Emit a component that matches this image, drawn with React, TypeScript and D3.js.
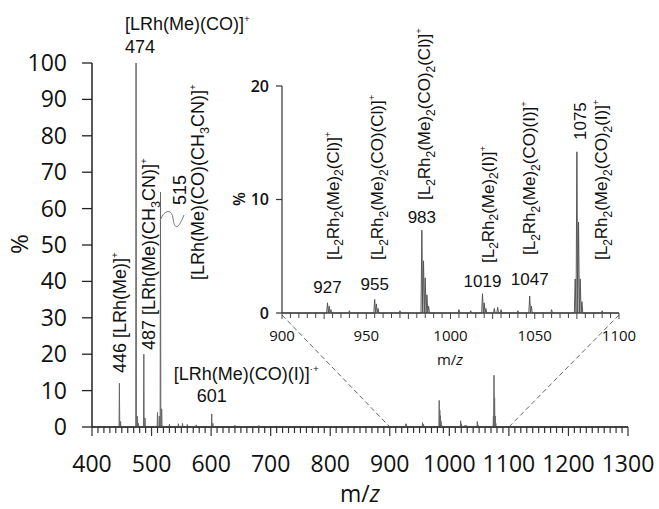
import React from 'react';
import * as d3 from 'd3';

// main spectrum sticks: m/z and relative intensity (%)
const mainMz = [446, 448, 474, 476, 478, 487, 489, 510, 513, 515, 517, 530, 545, 552, 560, 575, 601, 603, 640, 680];
const mainInt = [12, 1.5, 100, 3, 1, 20, 2.5, 4, 3, 64.5, 5, 0.8, 0.9, 1, 0.7, 0.6, 3.6, 1, 0.5, 0.4];

// dinuclear region, shared by the inset and the main trace
const dimerMz = [927, 928, 929, 940, 955, 956, 957, 970, 983, 984, 985, 986, 987, 1005, 1012, 1019, 1020, 1021, 1026, 1028, 1030, 1040, 1047, 1048, 1060, 1074, 1075, 1076, 1077, 1078, 1090];
const dimerInt = [0.9, 0.6, 0.3, 0.2, 1.2, 0.8, 0.4, 0.2, 7.3, 4.6, 3.1, 1.6, 0.6, 0.3, 0.2, 1.7, 0.9, 0.4, 0.4, 0.5, 0.3, 0.2, 1.5, 0.6, 0.3, 3, 14.2, 8, 3, 1, 0.2];

const mainYTicks = d3.range(0, 101, 10);
const mainXLabels = d3.range(400, 1301, 100);
const insetXLabels = [900, 950, 1000, 1050, 1100];
const insetYTicks = [0, 10, 20];

// annotations: text uses _x for subscript, ^ for superscript
const mainLabels = [
  { text: '[LRh(Me)(CO)]^+', mz: 474, dx: -11, y: 30, rot: false, anchor: 'start' },
  { text: '474', mz: 474, dx: -11, y: 53, rot: false, anchor: 'start' },
  { text: '446 [LRh(Me)]^+', mz: 446, dx: 0, y: 373, rot: true },
  { text: '487 [LRh(Me)(CH_3CN)]^+', mz: 487, dx: 5, y: 350, rot: true },
  { text: '515', mz: 515, dx: 19, y: 205, rot: true },
  { text: '[LRh(Me)(CO)(CH_3CN)]^+', mz: 515, dx: 37, y: 280, rot: true },
  { text: '[LRh(Me)(CO)(I)]^·+', mz: 601, dx: -38, y: 380, rot: false, anchor: 'start' },
  { text: '601', mz: 601, dx: 0, y: 402, rot: false, anchor: 'middle' },
];

const insetLabels = [
  { text: '927', mz: 927, dx: 0, y: 293, rot: false },
  { text: '955', mz: 955, dx: 0, y: 290, rot: false },
  { text: '983', mz: 983, dx: 0, y: 223, rot: false },
  { text: '1019', mz: 1019, dx: 0, y: 287, rot: false },
  { text: '1047', mz: 1047, dx: 0, y: 285, rot: false },
  { text: '1075', mz: 1075, dx: 3, y: 140, rot: true },
  { text: '[L_2Rh_2(Me)_2(Cl)]^+', mz: 927, dx: 5, y: 260, rot: true },
  { text: '[L_2Rh_2(Me)_2(CO)(Cl)]^+', mz: 955, dx: 2, y: 260, rot: true },
  { text: '[L_2Rh_2(Me)_2(CO)_2(Cl)]^+', mz: 983, dx: 2, y: 200, rot: true },
  { text: '[L_2Rh_2(Me)_2(I)]^+', mz: 1019, dx: 5, y: 263, rot: true },
  { text: '[L_2Rh_2(Me)_2(CO)(I)]^+', mz: 1047, dx: -1, y: 255, rot: true },
  { text: '[L_2Rh_2(Me)_2(CO)_2(I)]^+', mz: 1075, dx: 24, y: 260, rot: true },
];

const W = 659;
const H = 509;
const labelFont = '"Liberation Sans", Arial, sans-serif';
const axisFont = '"Open Sans", sans-serif';

function Formula({ s, size }: { s: string; size: number }) {
  const parts: { t: string; k: string }[] = [];
  let buf = '';
  for (let i = 0; i < s.length; i++) {
    const c = s[i];
    if (c === '_') {
      if (buf) parts.push({ t: buf, k: 'n' });
      buf = '';
      parts.push({ t: s[i + 1], k: 'sub' });
      i++;
    } else if (c === '^') {
      if (buf) parts.push({ t: buf, k: 'n' });
      buf = '';
      parts.push({ t: s.slice(i + 1), k: 'sup' });
      break;
    } else buf += c;
  }
  if (buf) parts.push({ t: buf, k: 'n' });
  let cur = 0;
  return (
    <>
      {parts.map((p, i) => {
        const want = p.k === 'sub' ? size * 0.28 : p.k === 'sup' ? -size * 0.45 : 0;
        const dy = want - cur;
        cur = want;
        const fs = p.k === 'sub' ? size * 0.7 : p.k === 'sup' ? size * 0.55 : size;
        return (
          <tspan key={i} dy={dy} fontSize={fs}>
            {p.t}
          </tspan>
        );
      })}
    </>
  );
}

function sticks(mz: number[], ints: number[], x: any, y: any, lo: number, hi: number, half: number) {
  const pts: [number, number][] = [[lo, 0]];
  mz.forEach((m, i) => {
    if (m < lo || m > hi) return;
    pts.push([m - half, 0], [m, ints[i]], [m + half, 0]);
  });
  pts.push([hi, 0]);
  return d3.line<[number, number]>().x((d) => x(d[0])).y((d) => y(Math.min(d[1], y.domain()[1])))(pts) || '';
}

function Label({ l, x, size }: any) {
  const px = x(l.mz) + l.dx;
  if (l.rot) {
    return (
      <text transform={`translate(${px + size * 0.36},${l.y}) rotate(-90)`} fontFamily={labelFont} fill="#111">
        <Formula s={l.text} size={size} />
      </text>
    );
  }
  return (
    <text x={px} y={l.y} textAnchor={l.anchor || 'middle'} fontFamily={labelFont} fill="#111">
      <Formula s={l.text} size={size} />
    </text>
  );
}

export default function App() {
  const x = d3.scaleLinear().domain([400, 1300]).range([92, 628]);
  const y = d3.scaleLinear().domain([0, 100]).range([427, 63]);
  const ix = d3.scaleLinear().domain([900, 1100]).range([282, 619]);
  const iy = d3.scaleLinear().domain([0, 20]).range([313, 86]);

  const allMz = mainMz.concat(dimerMz);
  const allInt = mainInt.concat(dimerInt);

  return (
    <svg width={W} height={H} style={{ position: 'absolute', left: 0, top: 0, background: '#fff' }}>
      {/* zoom guide lines */}
      <line x1={ix(900)} y1={iy(0) + 2} x2={x(900)} y2={y(0)} stroke="#666" strokeDasharray="5,3" strokeWidth={1} />
      <line x1={ix(1100)} y1={iy(0) + 2} x2={x(1100)} y2={y(0)} stroke="#666" strokeDasharray="5,3" strokeWidth={1} />

      {/* main spectrum */}
      <path d={sticks(allMz, allInt, x, y, 400, 1300, 0.6)} fill="none" stroke="#666" strokeWidth={1} />
      <path d="M160,221 C164,209 172,209 173,218 S177,233 184,215" fill="none" stroke="#777" strokeWidth={1} />

      {/* main axes */}
      <line x1={x(400)} x2={x(1300)} y1={y(0)} y2={y(0)} stroke="#444" strokeWidth={2} />
      <line x1={x(400)} x2={x(400)} y1={y(0)} y2={y(100)} stroke="#222" strokeWidth={1.5} />
      {d3.range(400, 1301, 10).map((v) => (
        <line key={v} x1={x(v)} x2={x(v)} y1={y(0)} y2={y(0) + (v % 100 === 0 ? 9 : 6)} stroke="#333" strokeWidth={1.2} />
      ))}
      {mainYTicks.map((v) => (
        <g key={v}>
          <line x1={82} x2={92} y1={y(v)} y2={y(v)} stroke="#222" strokeWidth={1.3} />
          <text x={67} y={y(v)} dy="0.35em" textAnchor="end" fontFamily={axisFont} fontSize={23} fill="#111">
            {v}
          </text>
        </g>
      ))}
      {mainXLabels.map((v) => (
        <text key={v} x={x(v)} y={472} textAnchor="middle" fontFamily={axisFont} fontSize={23} fill="#111">
          {v}
        </text>
      ))}
      <text transform="translate(28,244) rotate(-90)" textAnchor="middle" fontFamily={axisFont} fontSize={24} fill="#111">
        %
      </text>
      <text x={360} y={502} textAnchor="middle" fontFamily={axisFont} fontSize={23} fill="#111">
        m/<tspan fontStyle="italic">z</tspan>
      </text>

      {mainLabels.map((l, i) => (
        <Label key={i} l={l} x={x} size={18} />
      ))}

      {/* inset */}
      <path d={sticks(dimerMz, dimerInt, ix, iy, 900, 1100, 0.5)} fill="none" stroke="#555" strokeWidth={1} />
      <line x1={ix(900)} x2={ix(1100)} y1={iy(0)} y2={iy(0)} stroke="#444" strokeWidth={1.5} />
      <line x1={ix(900)} x2={ix(900)} y1={iy(0)} y2={iy(20)} stroke="#333" strokeWidth={1.2} />
      {d3.range(900, 1101, 5).map((v) => (
        <line key={v} x1={ix(v)} x2={ix(v)} y1={iy(0)} y2={iy(0) + (v % 25 === 0 ? 6 : 5)} stroke="#444" strokeWidth={1} />
      ))}
      {insetYTicks.map((v) => (
        <g key={v}>
          <line x1={276} x2={282} y1={iy(v)} y2={iy(v)} stroke="#333" strokeWidth={1.2} />
          <text x={269} y={iy(v)} dy="0.35em" textAnchor="end" fontFamily={axisFont} fontSize={16} fontWeight={600} fill="#111">
            {v}
          </text>
        </g>
      ))}
      {insetXLabels.map((v) => (
        <text key={v} x={ix(v)} y={341} textAnchor="middle" fontFamily={axisFont} fontSize={15} fill="#111">
          {v}
        </text>
      ))}
      <text transform="translate(245,199) rotate(-90)" textAnchor="middle" fontFamily={axisFont} fontSize={16} fontWeight={600} fill="#111">
        %
      </text>
      <text x={450} y={365} textAnchor="middle" fontFamily={axisFont} fontSize={15} fill="#111">
        m/<tspan fontStyle="italic">z</tspan>
      </text>

      {insetLabels.map((l, i) => (
        <Label key={i} l={l} x={ix} size={17} />
      ))}
    </svg>
  );
}
